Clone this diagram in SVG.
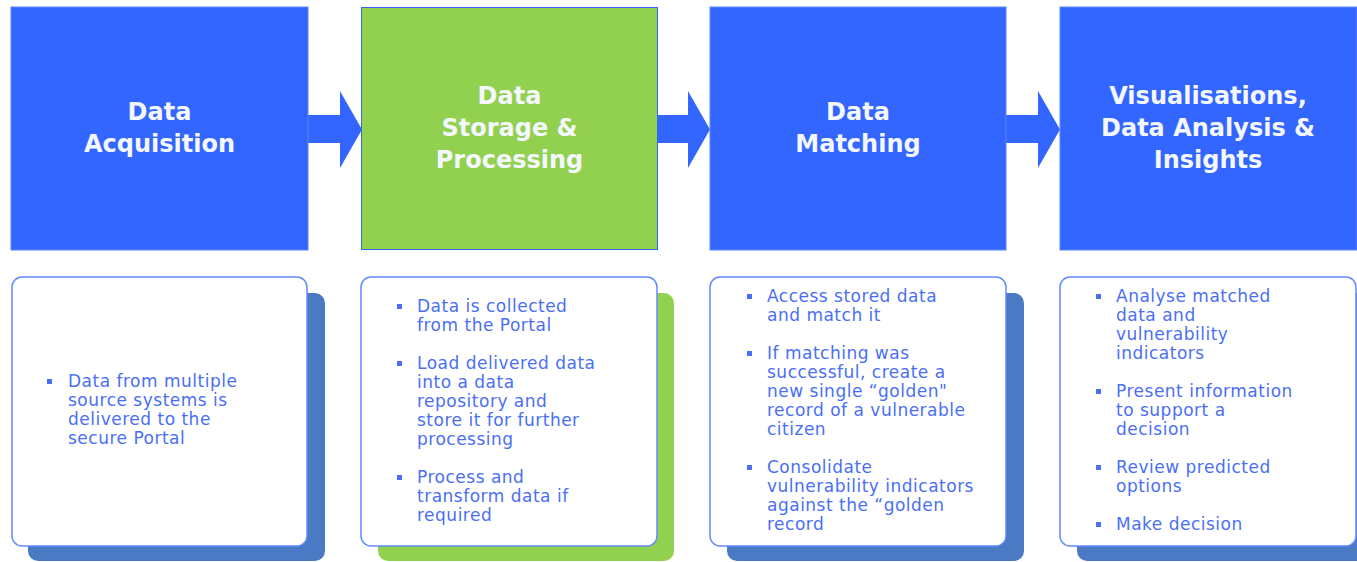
<svg xmlns="http://www.w3.org/2000/svg" width="1357" height="562" viewBox="0 0 1357 562">
<style>
.box{fill:#3366FF;stroke:#5C85FF;stroke-width:1}
.gbox{fill:#92D050;stroke:#3366FF;stroke-width:1}
.title{font-family:"DejaVu Sans",Verdana,sans-serif;font-weight:bold;font-size:24px;fill:#F5F7FF;text-anchor:middle}
.panel{fill:#FFFFFF;stroke:#6389FF;stroke-width:1.5}
.shadow{fill:#4A7AC4}
.gshadow{fill:#92D050}
.body{font-family:"DejaVu Sans",Verdana,sans-serif;font-size:17px;letter-spacing:0.5px;fill:#4A6FF5}
.bul{fill:#4A6FF5}
.arrow{fill:#3366FF}
</style>
<rect width="1357" height="562" fill="#FFFFFF"/>
<g id="connectors">
<polygon class="arrow" points="308,115 340,115 340,91 362,129.5 340,168 340,143 308,143"/>
<polygon class="arrow" points="658,115 688,115 688,91 710,129.5 688,168 688,143 658,143"/>
<polygon class="arrow" points="1006,115 1038,115 1038,91 1060,129.5 1038,168 1038,143 1006,143"/>
</g>
<g id="node-acquisition">
<rect class="box" x="11" y="7" width="297" height="243"/>
<text class="title" x="159.5" y="120">Data</text>
<text class="title" x="159.5" y="152">Acquisition</text>
</g>
<g id="node-storage">
<rect class="gbox" x="361.5" y="7.5" width="296" height="242"/>
<text class="title" x="509.5" y="104">Data</text>
<text class="title" x="509.5" y="136">Storage &amp;</text>
<text class="title" x="509.5" y="168">Processing</text>
</g>
<g id="node-matching">
<rect class="box" x="710" y="7" width="296" height="243"/>
<text class="title" x="858" y="120">Data</text>
<text class="title" x="858" y="152">Matching</text>
</g>
<g id="node-insights">
<rect class="box" x="1060" y="7" width="297" height="243"/>
<text class="title" x="1208" y="104">Visualisations,</text>
<text class="title" x="1208" y="136">Data Analysis &amp;</text>
<text class="title" x="1208" y="168">Insights</text>
</g>
<g id="panel-acquisition">
<rect class="shadow" x="28" y="293" width="297" height="268" rx="10"/>
<rect class="panel" x="12" y="277" width="295" height="269" rx="10"/>
<rect class="bul" x="47" y="379" width="5" height="5"/>
<text class="body" x="68" y="387">Data from multiple</text>
<text class="body" x="68" y="406">source systems is</text>
<text class="body" x="68" y="425">delivered to the</text>
<text class="body" x="68" y="444">secure Portal</text>
</g>
<g id="panel-storage">
<rect class="gshadow" x="378" y="293" width="296" height="268" rx="10"/>
<rect class="panel" x="361" y="277" width="296" height="269" rx="10"/>
<rect class="bul" x="397" y="304" width="5" height="5"/>
<text class="body" x="417" y="312">Data is collected</text>
<text class="body" x="417" y="331">from the Portal</text>
<rect class="bul" x="397" y="361" width="5" height="5"/>
<text class="body" x="417" y="369">Load delivered data</text>
<text class="body" x="417" y="388">into a data</text>
<text class="body" x="417" y="407">repository and</text>
<text class="body" x="417" y="426">store it for further</text>
<text class="body" x="417" y="445">processing</text>
<rect class="bul" x="397" y="475" width="5" height="5"/>
<text class="body" x="417" y="483">Process and</text>
<text class="body" x="417" y="502">transform data if</text>
<text class="body" x="417" y="521">required</text>
</g>
<g id="panel-matching">
<rect class="shadow" x="727" y="293" width="297" height="268" rx="10"/>
<rect class="panel" x="710" y="277" width="296" height="269" rx="10"/>
<rect class="bul" x="747" y="294" width="5" height="5"/>
<text class="body" x="767" y="302">Access stored data</text>
<text class="body" x="767" y="321">and match it</text>
<rect class="bul" x="747" y="351" width="5" height="5"/>
<text class="body" x="767" y="359">If matching was</text>
<text class="body" x="767" y="378">successful, create a</text>
<text class="body" x="767" y="397">new single “golden"</text>
<text class="body" x="767" y="416">record of a vulnerable</text>
<text class="body" x="767" y="435">citizen</text>
<rect class="bul" x="747" y="465" width="5" height="5"/>
<text class="body" x="767" y="473">Consolidate</text>
<text class="body" x="767" y="492">vulnerability indicators</text>
<text class="body" x="767" y="511">against the “golden</text>
<text class="body" x="767" y="530">record</text>
</g>
<g id="panel-insights">
<rect class="shadow" x="1077" y="293" width="297" height="268" rx="10"/>
<rect class="panel" x="1060" y="277" width="296" height="269" rx="10"/>
<rect class="bul" x="1096" y="294" width="5" height="5"/>
<text class="body" x="1116" y="302">Analyse matched</text>
<text class="body" x="1116" y="321">data and</text>
<text class="body" x="1116" y="340">vulnerability</text>
<text class="body" x="1116" y="359">indicators</text>
<rect class="bul" x="1096" y="389" width="5" height="5"/>
<text class="body" x="1116" y="397">Present information</text>
<text class="body" x="1116" y="416">to support a</text>
<text class="body" x="1116" y="435">decision</text>
<rect class="bul" x="1096" y="465" width="5" height="5"/>
<text class="body" x="1116" y="473">Review predicted</text>
<text class="body" x="1116" y="492">options</text>
<rect class="bul" x="1096" y="522" width="5" height="5"/>
<text class="body" x="1116" y="530">Make decision</text>
</g>
</svg>
